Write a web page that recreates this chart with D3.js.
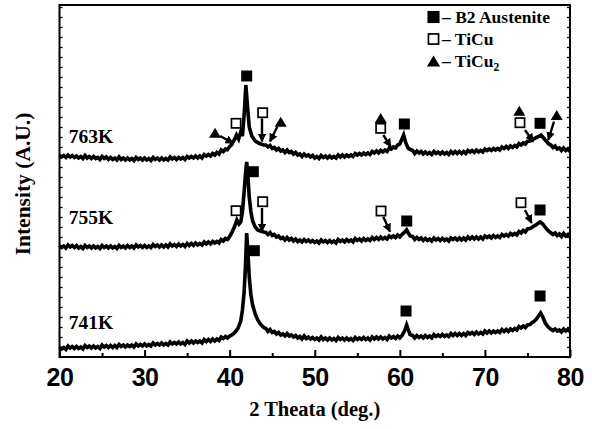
<!DOCTYPE html>
<html>
<head>
<meta charset="utf-8">
<script src="https://cdn.jsdelivr.net/npm/d3@7"></script>
<style>
  html, body { margin: 0; padding: 0; background: #fff; }
  svg { display: block; }
</style>
</head>
<body>
<svg id="chart" width="592" height="429"></svg>
<script>
// XRD patterns: [2θ (deg), intensity (A.U., offset per temperature)]
const pattern741 = [
[20,10],[20.25,8],[20.5,9.5],[20.75,7.5],[21,11],[21.25,9],[21.5,10.5],[21.75,8.5],[22,10.5],[22.25,8.5],[22.5,10],[22.75,8],
[23,11.5],[23.25,9.5],[23.5,11],[23.75,9],[24,11],[24.25,9],[24.5,10.5],[24.75,8.5],[25,12],[25.25,10],[25.5,11.5],[25.75,9.5],
[26,11.5],[26.25,9.5],[26.5,11.5],[26.75,9.5],[27,12.5],[27.25,10.5],[27.5,12],[27.75,10],[28,12],[28.25,10.5],[28.5,12],[28.75,10],
[29,13],[29.25,11],[29.5,12.5],[29.75,11],[30,13],[30.25,11],[30.5,12.5],[30.75,11],[31,14],[31.25,12],[31.5,13.5],[31.75,12],
[32,14],[32.25,12],[32.5,13.5],[32.75,12],[33,15],[33.25,13],[33.5,14.5],[33.75,13],[34,15],[34.25,13],[34.5,14.5],[34.75,12.5],
[35,16],[35.25,14],[35.5,16],[35.75,14],[36,16],[36.25,14.5],[36.5,16],[36.75,14],[37,17.5],[37.25,15.5],[37.5,17.5],[37.75,15.5],
[38,18],[38.25,16],[38.5,18],[38.75,16.5],[39,20],[39.25,18.5],[39.5,20.5],[39.75,19],[40,21],
[40.25,22],[40.5,23.5],[40.75,26],[41,29],[41.3,36],[41.5,47],[41.7,65],[41.85,90],[42.0,124],[42.15,104],[42.3,80],[42.5,62],
[42.7,52],[43,43],[43.3,37],[43.6,33],[44,29.5],[44.25,28.5],
[44.5,25.5],[44.75,27.5],[45,24.5],[45.25,25.5],[45.5,23],[45.75,24.5],[46,22],[46.25,23],[46.5,21],[46.75,23.5],[47,21],[47.25,22],
[47.5,20],[47.75,21.5],[48,19],[48.25,20.5],[48.5,18],[48.75,21],[49,18.5],[49.25,20],[49.5,18],[49.75,19.5],[50,17.5],[50.25,19],
[50.5,17],[50.75,20],[51,17.5],[51.25,19],[51.5,17],[51.75,19],[52,17],[52.25,18.5],[52.5,16.5],[52.75,19.5],[53,17.5],[53.25,19],
[53.5,17],[53.75,19],[54,17],[54.25,18.5],[54.5,16.5],[54.75,19.5],[55,17.5],[55.25,19],[55.5,17.5],[55.75,19.5],[56,17.5],[56.25,19],
[56.5,17],[56.75,20],[57,18],[57.25,20],[57.5,18],[57.75,20],[58,18],[58.25,19.5],[58.5,17.5],[58.75,21],[59,19],[59.25,20.5],
[59.5,18.5],[59.75,21],[60,19],
[60.3,22],[60.6,27],[60.8,32],[61.0,27],[61.2,22.5],
[61.5,21.5],[61.75,19],[62,21.5],[62.25,19.5],[62.5,21],[62.75,19],[63,21.5],[63.25,19.5],[63.5,21],[63.75,19],[64,22.5],[64.25,20.5],
[64.5,22],[64.75,20.5],[65,22.5],[65.25,20.5],[65.5,22],[65.75,20.5],[66,23.5],[66.25,21.5],[66.5,23.5],[66.75,21.5],[67,23.5],[67.25,21.5],
[67.5,23.5],[67.75,21.5],[68,24.5],[68.25,23],[68.5,24.5],[68.75,22.5],[69,25],[69.25,23],[69.5,24.5],[69.75,23],[70,26],[70.25,24],
[70.5,26],[70.75,24],[71,26],[71.25,24.5],[71.5,26],[71.75,24.5],[72,27.5],[72.25,25.5],[72.5,27.5],[72.75,25.5],[73,28],[73.25,26.5],
[73.5,28.5],[73.75,27],[74,30.5],[74.25,29],[74.5,31],[74.75,29.5],[75,32],
[75.3,32.5],[75.5,34],[75.75,35.5],[76,37.5],[76.3,41],[76.55,44],[76.8,40],[77.1,34],[77.4,30.5],[77.7,28],
[78,26.5],[78.25,28],[78.5,26],[78.75,27],[79,25],[79.25,28],[79.5,26],[79.75,27.5],[80,25.5]];

const pattern755 = [
[20,111.5],[20.25,109.5],[20.5,111],[20.75,109],[21,112],[21.25,110],[21.5,111.5],[21.75,109.5],[22,111.5],[22.25,109],[22.5,110.5],[22.75,108.5],
[23,111.5],[23.25,109.5],[23.5,111],[23.75,109],[24,111],[24.25,109],[24.5,110.5],[24.75,108.5],[25,111.5],[25.25,109.5],[25.5,111],[25.75,109],
[26,111],[26.25,109],[26.5,110.5],[26.75,108.5],[27,111.5],[27.25,109.5],[27.5,111],[27.75,109],[28,111.5],[28.25,109.5],[28.5,111],[28.75,109],
[29,112],[29.25,110],[29.5,111.5],[29.75,109.5],[30,111.5],[30.25,109.5],[30.5,111],[30.75,109.5],[31,112.5],[31.25,110.5],[31.5,112],[31.75,110],
[32,112],[32.25,110],[32.5,112],[32.75,110],[33,113],[33.25,111],[33.5,112.5],[33.75,110.5],[34,113],[34.25,111],[34.5,112.5],[34.75,110.5],
[35,113.5],[35.25,111.5],[35.5,113.5],[35.75,111.5],[36,114],[36.25,112],[36.5,113.5],[36.75,112],[37,115],[37.25,113],[37.5,115],[37.75,113],
[38,115.5],[38.25,114],[38.5,115.5],[38.75,114],[39,117.5],[39.25,116],[39.5,118.5],[39.75,117.5],[40,120.5],
[40.3,125],[40.6,131],[40.85,137],[41.1,133],[41.3,135],[41.5,145],[41.7,165],[41.85,182],[42.0,195],[42.15,180],[42.3,160],[42.5,145],
[42.7,136],[43,130],[43.3,127],[43.6,126],[44,125],[44.25,124.5],
[44.5,122.5],[44.75,124.5],[45,121.5],[45.25,122.5],[45.5,120],[45.75,121],[46,118.5],[46.25,119.5],[46.5,117],[46.75,119.5],[47,117],[47.25,118.5],
[47.5,116],[47.75,118],[48,115.5],[48.25,117],[48.5,115],[48.75,117.5],[49,115.5],[49.25,117],[49.5,115],[49.75,116.5],[50,114.5],[50.25,116],
[50.5,114],[50.75,117],[51,115],[51.25,116.5],[51.5,114.5],[51.75,116.5],[52,114.5],[52.25,116],[52.5,114],[52.75,117.5],[53,115.5],[53.25,117],
[53.5,115],[53.75,117.5],[54,115.5],[54.25,117],[54.5,115],[54.75,118.5],[55,116.5],[55.25,118],[55.5,116],[55.75,118.5],[56,116.5],[56.25,118],
[56.5,116.5],[56.75,119.5],[57,117.5],[57.25,119.5],[57.5,117.5],[57.75,120],[58,118],[58.25,119.5],[58.5,118],[58.75,121],[59,119.5],[59.25,121],
[59.5,119.5],[59.75,122],[60,120],
[60.3,123],[60.6,125],[60.8,127],[61.0,124],[61.2,121],
[61.5,120.5],[61.75,117.5],[62,119.5],[62.25,117.5],[62.5,119],[62.75,116.5],[63,118.5],[63.25,116.5],[63.5,118],[63.75,116],[64,119],[64.25,117],
[64.5,118.5],[64.75,116.5],[65,118.5],[65.25,116.5],[65.5,118],[65.75,116],[66,119],[66.25,117.5],[66.5,119],[66.75,117],[67,119],[67.25,117],
[67.5,119],[67.75,117],[68,120],[68.25,118],[68.5,120],[68.75,118],[69,120],[69.25,118],[69.5,120],[69.75,118],[70,121],[70.25,119.5],
[70.5,121],[70.75,119],[71,121.5],[71.25,119.5],[71.5,121],[71.75,119.5],[72,122.5],[72.25,121],[72.5,122.5],[72.75,121],[73,123.5],[73.25,122],
[73.5,123.5],[73.75,122],[74,125.5],[74.25,124],[74.5,126.5],[74.75,125],[75,128],
[75.3,128.5],[75.5,129.5],[75.75,131],[76,132],[76.3,134],[76.5,135],[76.8,133],[77.1,129.5],[77.4,126.5],[77.7,124.5],
[78,122.5],[78.25,124],[78.5,121.5],[78.75,123],[79,120.5],[79.25,123.5],[79.5,121],[79.75,122.5],[80,120]];

const pattern763 = [
[20,202],[20.25,200],[20.5,201.5],[20.75,199.5],[21,202],[21.25,200],[21.5,201.5],[21.75,199.5],[22,201],[22.25,199],[22.5,200.5],[22.75,198.5],
[23,201.5],[23.25,199],[23.5,200.5],[23.75,198.5],[24,200.5],[24.25,198.5],[24.5,199.5],[24.75,197.5],[25,200.5],[25.25,198.5],[25.5,200],[25.75,197.5],
[26,199.5],[26.25,197.5],[26.5,199],[26.75,197],[27,200],[27.25,197.5],[27.5,199],[27.75,197],[28,199],[28.25,197],[28.5,198.5],[28.75,196.5],
[29,199.5],[29.25,197.5],[29.5,199],[29.75,197],[30,199],[30.25,197],[30.5,198.5],[30.75,196.5],[31,199.5],[31.25,197.5],[31.5,199],[31.75,197],
[32,199],[32.25,197],[32.5,198.5],[32.75,197],[33,200],[33.25,198],[33.5,199.5],[33.75,197.5],[34,199.5],[34.25,198],[34.5,199.5],[34.75,197.5],
[35,200.5],[35.25,199],[35.5,200.5],[35.75,199],[36,201],[36.25,199],[36.5,201],[36.75,199],[37,202.5],[37.25,201],[37.5,202.5],[37.75,201],
[38,203.5],[38.25,202],[38.5,204.5],[38.75,203],[39,207],[39.25,205.5],[39.5,208],[39.75,207.5],[40,210.5],
[40.2,212],[40.4,215],[40.6,218],[40.8,222],[41.05,218],[41.3,225],[41.5,221],[41.7,242],[41.9,272],[42.1,250],[42.3,230],[42.6,221],
[43,216],[43.5,213.5],[44,212],[44.25,212],
[44.5,210],[44.75,211.5],[45,208.5],[45.25,209.5],[45.5,207],[45.75,208.5],[46,206],[46.25,207],[46.5,204.5],[46.75,207],[47,204.5],[47.25,205.5],
[47.5,203],[47.75,204.5],[48,202],[48.25,203],[48.5,200.5],[48.75,203],[49,201],[49.25,202],[49.5,200],[49.75,201.5],[50,199],[50.25,200.5],
[50.5,198.5],[50.75,201.5],[51,199.5],[51.25,201],[51.5,199],[51.75,201],[52,199],[52.25,200.5],[52.5,199],[52.75,202],[53,200],[53.25,202],
[53.5,200],[53.75,202],[54,200.5],[54.25,202],[54.5,200.5],[54.75,203.5],[55,202],[55.25,203.5],[55.5,202],[55.75,204],[56,202.5],[56.25,204],
[56.5,202.5],[56.75,205.5],[57,204],[57.25,206],[57.5,204],[57.75,206.5],[58,205],[58.25,207],[58.5,205.5],[58.75,209],[59,208],[59.25,210],
[59.5,209],[59.75,212],
[60.0,213],[60.2,217],[60.45,222],[60.7,214],[61,208.5],[61.25,207.5],
[61.5,206.5],[61.75,203.5],[62,206],[62.25,204],[62.5,205.5],[62.75,203],[63,205],[63.25,203],[63.5,204.5],[63.75,202.5],[64,205.5],[64.25,203.5],
[64.5,205],[64.75,203],[65,205],[65.25,203],[65.5,204.5],[65.75,202.5],[66,205.5],[66.25,203.5],[66.5,205.5],[66.75,203.5],[67,205.5],[67.25,203.5],
[67.5,205.5],[67.75,203.5],[68,206.5],[68.25,205],[68.5,206.5],[68.75,204.5],[69,207],[69.25,205],[69.5,206.5],[69.75,205],[70,208],[70.25,206.5],
[70.5,208],[70.75,206.5],[71,208.5],[71.25,207],[71.5,208.5],[71.75,207],[72,210],[72.25,208.5],[72.5,210.5],[72.75,208.5],[73,211],[73.25,209.5],
[73.5,211.5],[73.75,210],[74,213.5],[74.25,212],[74.5,214],[74.75,213],[75,215.5],
[75.3,216],[75.55,217],[75.8,218.5],[76.05,219.5],[76.3,220.5],[76.6,222],[76.9,219],[77.2,216],[77.5,213],[77.75,212],
[78,209.5],[78.25,211],[78.5,208],[78.75,209],[79,206.5],[79.25,209],[79.5,206.5],[79.75,208],[80,205.5]];

// Temperature labels: [text, 2θ, intensity]
const tempLabels = [["763K", 21.1, 214], ["755K", 21.1, 133], ["741K", 21.1, 28]];

// Phase markers: [kind, 2θ, intensity]; kind: B2 (filled square), TiCu (open square), TiCu2 (triangle)
const phaseMarks = [
  ["TiCu2", 38.28, 224.3], ["TiCu", 40.75, 233.7], ["B2", 42.0, 281], ["TiCu", 43.88, 244.3], ["TiCu2", 46.0, 235.3],
  ["TiCu2", 57.75, 239], ["TiCu", 57.75, 228.7], ["B2", 60.53, 233], ["TiCu2", 74.04, 246.3], ["TiCu", 74.12, 234.3],
  ["B2", 76.48, 233.7], ["TiCu2", 78.44, 242],
  ["TiCu", 40.75, 146.3], ["B2", 42.78, 185.3], ["TiCu", 43.88, 155.3], ["TiCu", 57.79, 146], ["B2", 60.81, 136],
  ["TiCu", 74.24, 154.3], ["B2", 76.48, 147],
  ["B2", 42.9, 106.3], ["B2", 60.73, 46], ["B2", 76.48, 61]
];

// Arrows from a marker to its reflection: [from 2θ, from I, to 2θ, to I]
const arrows = [
  [38.87, 221, 40.43, 213.7], [43.8, 238.7, 43.8, 215.5], [45.6, 230.3, 44.74, 215.5],
  [58.06, 222, 58.93, 210.3], [74.71, 227, 75.69, 215.3], [78.12, 235.3, 77.45, 217],
  [43.8, 149, 43.8, 125.5], [58.06, 140.3, 58.85, 125.3], [74.71, 147, 75.5, 134]
];

const xTicks = [20, 30, 40, 50, 60, 70, 80];
const xMinorTicks = [25, 35, 45, 55, 65, 75];
const yTicks = d3.range(0, 351, 10);

const legendItems = [["B2", "B2 Austenite", ""], ["TiCu", "TiCu", ""], ["TiCu2", "TiCu", "2"]];

const svg = d3.select("#chart");
const plotLeft = 59.5, plotRight = 570, plotTop = 5, plotBottom = 357;
const x = d3.scaleLinear().domain([20, 80]).range([plotLeft, plotRight]);
const y = d3.scaleLinear().domain([0, 352]).range([plotBottom, plotTop]);

const serif = "'Liberation Serif', 'Times New Roman', serif";
const sans = "'Liberation Sans', Arial, sans-serif";

// arrow head
svg.append("defs").append("marker")
  .attr("id", "head").attr("viewBox", "0 0 10 10")
  .attr("refX", 9).attr("refY", 5)
  .attr("markerWidth", 3.6).attr("markerHeight", 3.6)
  .attr("markerUnits", "strokeWidth")
  .attr("orient", "auto")
  .append("path").attr("d", "M0,0L10,5L0,10Z").attr("fill", "#000");

// Axes
const gx = svg.append("g").attr("transform", `translate(0,${plotBottom})`)
  .call(d3.axisBottom(x).tickValues(xTicks).tickSize(-7).tickPadding(11).tickFormat(d3.format("d")));
gx.select(".domain").remove();
gx.selectAll(".tick line").attr("stroke-width", 2);
gx.selectAll(".tick text").attr("font-family", sans).attr("font-weight", "bold")
  .attr("font-size", 25).attr("letter-spacing", -0.5).attr("fill", "#000");

const gxm = svg.append("g").attr("transform", `translate(0,${plotBottom})`)
  .call(d3.axisBottom(x).tickValues(xMinorTicks).tickSize(-4).tickFormat(""));
gxm.select(".domain").remove();
gxm.selectAll(".tick line").attr("stroke-width", 2);

const gyl = svg.append("g").attr("transform", `translate(${plotLeft},0)`)
  .call(d3.axisLeft(y).tickValues(yTicks).tickSize(-3).tickFormat(""));
gyl.select(".domain").remove();
gyl.selectAll(".tick line").attr("stroke-width", 1.3);

const gyr = svg.append("g").attr("transform", `translate(${plotRight},0)`)
  .call(d3.axisRight(y).tickValues(yTicks).tickSize(-3).tickFormat(""));
gyr.select(".domain").remove();
gyr.selectAll(".tick line").attr("stroke-width", 1.3);

// Patterns
const line = d3.line().x(d => x(d[0])).y(d => y(d[1]));
[pattern741, pattern755, pattern763].forEach(p => {
  svg.append("path").datum(p).attr("d", line)
    .attr("fill", "none").attr("stroke", "#000")
    .attr("stroke-width", 3.6).attr("stroke-linejoin", "miter");
});

// Frame
svg.append("rect").attr("x", plotLeft).attr("y", plotTop)
  .attr("width", plotRight - plotLeft).attr("height", plotBottom - plotTop)
  .attr("fill", "none").attr("stroke", "#000").attr("stroke-width", 2);

// Markers
function drawMark(g, kind, cx, cy, s = 1) {
  if (kind === "B2") {
    const h = 5.5 * s;
    g.append("rect").attr("x", cx - h).attr("y", cy - h).attr("width", 2 * h).attr("height", 2 * h).attr("fill", "#000");
  } else if (kind === "TiCu") {
    const h = 4.6 * s;
    g.append("rect").attr("x", cx - h).attr("y", cy - h).attr("width", 2 * h).attr("height", 2 * h)
      .attr("fill", "#fff").attr("stroke", "#000").attr("stroke-width", 1.7);
  } else {
    const w = 6 * s, h = 5 * s;
    g.append("path").attr("d", `M${cx - w},${cy + h}L${cx + w},${cy + h}L${cx},${cy - h}Z`).attr("fill", "#000");
  }
}
const gm = svg.append("g");
phaseMarks.forEach(([k, t, v]) => drawMark(gm, k, x(t), y(v)));

svg.append("g").selectAll("line").data(arrows).join("line")
  .attr("x1", d => x(d[0])).attr("y1", d => y(d[1]))
  .attr("x2", d => x(d[2])).attr("y2", d => y(d[3]))
  .attr("stroke", "#000").attr("stroke-width", 2.4)
  .attr("marker-end", "url(#head)");

// Temperature labels
svg.append("g").selectAll("text").data(tempLabels).join("text")
  .attr("x", d => x(d[1])).attr("y", d => y(d[2]))
  .attr("font-family", serif).attr("font-weight", "bold").attr("font-size", 19.5)
  .text(d => d[0]);

// Legend
const lg = svg.append("g");
legendItems.forEach(([k, label, sub], i) => {
  const cy = 17 + i * 22;
  drawMark(lg, k, 433.5, cy, 1.1);
  const t = lg.append("text").attr("x", 442).attr("y", cy + 6)
    .attr("font-family", serif).attr("font-weight", "bold").attr("font-size", 17.5)
    .text("\u2013 " + label);
  if (sub) t.append("tspan").attr("font-size", 11.5).attr("dy", 4).text(sub);
});

// Axis titles
svg.append("text").attr("x", (plotLeft + plotRight) / 2).attr("y", 416)
  .attr("text-anchor", "middle").attr("font-family", serif).attr("font-weight", "bold").attr("font-size", 20.5)
  .text("2 Theata (deg.)");
svg.append("text").attr("transform", "translate(30,184) rotate(-90)")
  .attr("text-anchor", "middle").attr("font-family", serif).attr("font-weight", "bold").attr("font-size", 21.5)
  .text("Intensity (A.U.)");
</script>
</body>
</html>
